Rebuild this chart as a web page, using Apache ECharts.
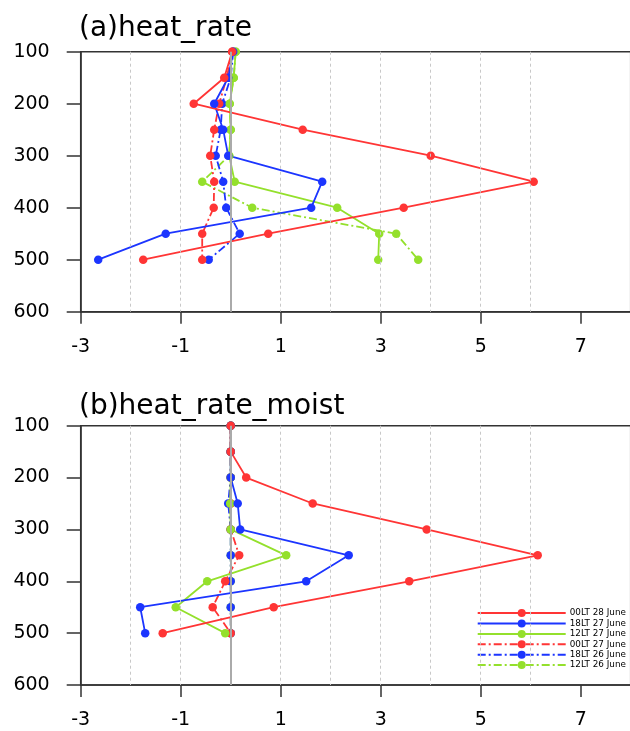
<!DOCTYPE html>
<html>
<head>
<meta charset="utf-8">
<script src="https://cdn.jsdelivr.net/npm/echarts@6/dist/echarts.min.js"></script>
<style>
  html, body { margin: 0; padding: 0; background: #fff; }
  #chart { width: 630px; height: 731px; }
</style>
</head>
<body>
<div id="chart"></div>
<script>
// pressure levels (hPa)
const levels = [100, 150, 200, 250, 300, 350, 400, 450, 500];

// (a) heat_rate
const aRed28 = [0.03, -0.13, -0.74, 1.44, 4.0, 6.06, 3.46, 0.75, -1.75];
const aBlue27 = [0.05, -0.05, -0.33, -0.15, -0.05, 1.83, 1.61, -1.30, -2.65];
const aGreen27 = [0.1, 0.06, -0.02, 0.0, -0.03, 0.08, 2.13, 2.97, 2.95];
const aRed27 = [0.03, -0.08, -0.23, -0.33, -0.41, -0.33, -0.34, -0.57, -0.57];
const aBlue26 = [0.05, 0.0, -0.17, -0.2, -0.30, -0.15, -0.09, 0.18, -0.44];
const aGreen26 = [0.1, 0.06, -0.02, 0.0, -0.03, -0.57, 0.43, 3.31, 3.75];

// (b) heat_rate_moist
const bRed28 = [0, 0, 0.31, 1.64, 3.92, 6.14, 3.57, 0.86, -1.36];
const bBlue27 = [0, 0, 0, 0.14, 0.19, 2.36, 1.51, -1.81, -1.71];
const bGreen27 = [0, 0, 0, -0.01, 0, 1.11, -0.47, -1.1, -0.11];
const bRed27 = [0, 0, 0, 0, 0, 0.17, -0.11, -0.36, 0];
const bBlue26 = [0, 0, 0, -0.05, 0, 0, 0, 0, 0];
const bGreen26 = [0, 0, 0, 0, 0, 0, 0, 0, 0];

const names = ['00LT 28 June', '18LT 27 June', '12LT 27 June', '00LT 27 June', '18LT 26 June', '12LT 26 June'];
const xTicks = [-3, -1, 1, 3, 5, 7];
const gridXs = [-2, -1, 1, 2, 3, 4, 5, 6];

const RED = '#ff3535';
const BLUE = '#1c35ff';
const GREEN = '#94e02c';
const DASH = [8, 3, 2, 3];
const FONT = 'DejaVu Sans';

function pairs(vals) {
  return vals.map((v, i) => [v, levels[i]]);
}

function profile(name, vals, color, dashed, idx) {
  return {
    name: name,
    type: 'line',
    xAxisIndex: idx,
    yAxisIndex: idx,
    data: pairs(vals),
    symbol: 'circle',
    symbolSize: 8.5,
    showSymbol: true,
    itemStyle: {color: color},
    lineStyle: {color: color, width: 1.8, type: dashed ? DASH : 'solid'},
    animation: false,
    z: 3,
  };
}

// dotted grid lines under the curves, grey zero line on top
function helpers(idx) {
  return [
    {
      type: 'line', xAxisIndex: idx, yAxisIndex: idx, data: [], z: 1, silent: true,
      markLine: {
        silent: true, symbol: ['none', 'none'], label: {show: false}, animation: false,
        lineStyle: {color: '#c8c8c8', width: 1, type: [3, 3]},
        data: gridXs.map((x) => ({xAxis: x})),
      },
    },
    {
      type: 'line', xAxisIndex: idx, yAxisIndex: idx, data: [], z: 10, silent: true,
      markLine: {
        silent: true, symbol: ['none', 'none'], label: {show: false}, animation: false,
        lineStyle: {color: '#aaaaaa', width: 2, type: 'solid'},
        data: [{xAxis: 0}],
      },
    },
  ];
}

function panelSeries(idx, r28, b27, g27, r27, b26, g26) {
  // drawn back to front so red ends up on top
  return [
    ...helpers(idx),
    profile(names[5], g26, GREEN, true, idx),
    profile(names[4], b26, BLUE, true, idx),
    profile(names[3], r27, RED, true, idx),
    profile(names[2], g27, GREEN, false, idx),
    profile(names[1], b27, BLUE, false, idx),
    profile(names[0], r28, RED, false, idx),
  ];
}

function xAxisFor(idx) {
  return {
    type: 'value', gridIndex: idx, min: -3, max: 8, position: 'bottom',
    axisLine: {show: true, onZero: false, lineStyle: {color: '#333', width: 1.5}},
    axisTick: {show: true, customValues: xTicks, length: 12, lineStyle: {color: '#333', width: 1.5}},
    axisLabel: {customValues: xTicks, color: '#000', fontSize: 19, fontFamily: FONT, margin: 26},
    splitLine: {show: false},
  };
}

function yAxisFor(idx) {
  return {
    type: 'value', gridIndex: idx, inverse: true, min: 100, max: 600, interval: 100, position: 'left',
    axisLine: {show: true, onZero: false, lineStyle: {color: '#333', width: 1.5}},
    axisTick: {show: true, length: 14, lineStyle: {color: '#333', width: 1.5}},
    axisLabel: {color: '#000', fontSize: 19, fontFamily: FONT, margin: 31},
    splitLine: {show: false},
  };
}

const chart = echarts.init(document.getElementById('chart'), null, {renderer: 'canvas'});

chart.setOption({
  backgroundColor: '#fff',
  animation: false,
  title: [
    {text: '(a)heat_rate', left: 79, top: 15, padding: 0,
     textStyle: {fontSize: 28, fontWeight: 'normal', color: '#000', fontFamily: FONT}},
    {text: '(b)heat_rate_moist', left: 79, top: 393, padding: 0,
     textStyle: {fontSize: 28, fontWeight: 'normal', color: '#000', fontFamily: FONT}},
  ],
  grid: [
    {left: 80.7, top: 51.7, width: 550, height: 260, show: true, borderColor: '#333', borderWidth: 1.5,
     backgroundColor: 'transparent', outerBoundsMode: 'none'},
    {left: 80.7, top: 425.7, width: 550, height: 259.3, show: true, borderColor: '#333', borderWidth: 1.5,
     backgroundColor: 'transparent', outerBoundsMode: 'none'},
  ],
  legend: {
    data: names,
    orient: 'vertical',
    left: 476.7,
    top: 608.6,
    padding: 0,
    itemWidth: 88,
    itemHeight: 10,
    itemGap: 1.4,
    textStyle: {fontSize: 8.8, fontFamily: FONT, color: '#000', padding: [0, 0, 0, -1]},
    selectedMode: false,
  },
  xAxis: [xAxisFor(0), xAxisFor(1)],
  yAxis: [yAxisFor(0), yAxisFor(1)],
  series: [
    ...panelSeries(0, aRed28, aBlue27, aGreen27, aRed27, aBlue26, aGreen26),
    ...panelSeries(1, bRed28, bBlue27, bGreen27, bRed27, bBlue26, bGreen26),
  ],
});
</script>
</body>
</html>
